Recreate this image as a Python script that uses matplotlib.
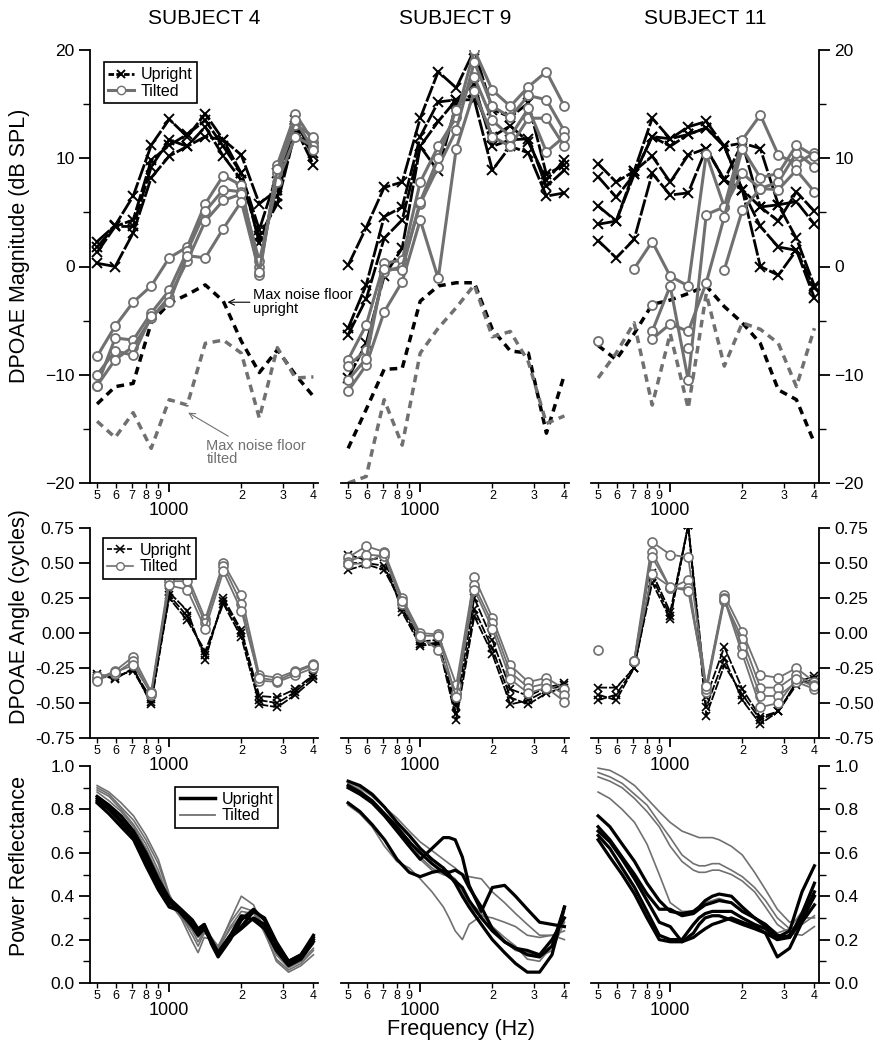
import numpy as np
import matplotlib
matplotlib.use("Agg")
import matplotlib.pyplot as plt
from matplotlib.ticker import FixedLocator, FixedFormatter
from matplotlib.lines import Line2D

plt.rcParams['font.family'] = ['Liberation Sans', 'DejaVu Sans']

nan = np.nan
subjects = ["SUBJECT 4", "SUBJECT 9", "SUBJECT 11"]

# DPOAE frequencies (Hz), 1/4 octave steps
dp_freq = [500, 595, 707, 841, 1000, 1189, 1414, 1682, 2000, 2378, 2828, 3364, 4000]
# frequencies used to read the reflectance curves
pr_freq = [500, 560, 630, 710, 800, 900, 1000, 1120, 1250, 1320, 1400, 1500,
           1600, 1800, 2000, 2250, 2500, 2800, 3150, 3550, 4000]

# ---- DPOAE magnitude (dB SPL) ----
mag_up_s4 = [
    [2.3, 3.8, 6.5, 11.2, 13.6, 12.0, 14.1, 11.7, 10.3, 5.8, 7.1, 13.5, 10.2],
    [1.8, 3.7, 4.3, 9.8, 11.2, 12.2, 13.5, 11.1, 8.6, 3.4, 8.6, 13.0, 11.0],
    [1.3, 3.7, 3.7, 9.2, 11.7, 11.1, 12.9, 10.2, 8.0, 2.8, 5.8, 12.5, 10.5],
    [0.3, 0.0, 3.1, 8.2, 10.2, 11.1, 12.0, 11.7, 8.6, 2.2, 6.5, 12.8, 9.4],
]
mag_ti_s4 = [
    [-8.3, -5.5, -3.3, -1.8, 0.8, 1.8, 5.8, 8.4, 7.5, -0.8, 9.4, 14.1, 11.5],
    [-11.0, -6.6, -6.8, -4.3, -2.2, 1.4, 5.1, 7.1, 6.9, 0.0, 8.6, 13.1, 12.0],
    [-11.0, -8.6, -7.4, -4.8, -2.8, 0.5, 4.2, 6.1, 6.7, 0.5, 7.8, 12.0, 11.1],
    [-10.0, -7.8, -8.2, -4.6, -3.3, 1.0, 0.8, 3.5, 6.0, -0.5, 9.0, 13.5, 10.8],
]
noise_up_s4 = [-12.7, -11.1, -10.8, -5.2, -3.4, -2.6, -1.7, -3.2, -6.9, -9.8, -7.7, -10.0, -12.0]
noise_ti_s4 = [-14.3, -15.8, -13.5, -16.8, -12.3, -12.8, -7.1, -6.8, -8.0, -14.0, -7.5, -10.3, -10.2]

mag_up_s9 = [
    [0.1, 3.6, 7.3, 7.8, 13.7, 18.0, 16.5, 20.0, 14.5, 13.8, 15.1, 8.5, 9.4],
    [-5.7, -1.7, 4.6, 5.5, 12.0, 15.2, 15.4, 16.8, 11.1, 11.7, 11.8, 7.4, 8.9],
    [-6.3, -3.0, 2.6, 4.3, 11.1, 13.4, 15.4, 15.4, 8.9, 11.1, 10.5, 6.5, 6.8],
    [-10.3, -7.1, -0.9, 1.7, 11.1, 8.8, 15.0, 16.0, 12.0, 13.0, 11.5, 8.0, 9.8],
]
mag_ti_s9 = [
    [-8.6, -5.4, 0.3, 0.6, 7.8, 11.1, 13.8, 20.0, 16.3, 14.8, 16.6, 18.0, 14.8],
    [-9.2, -7.7, -0.5, 0.0, 5.8, 9.2, 12.6, 18.9, 14.8, 13.8, 15.8, 15.4, 12.5],
    [-11.5, -9.1, -4.2, -1.4, 4.3, -1.1, 10.9, 16.2, 12.0, 11.1, 13.7, 13.7, 11.1],
    [-10.5, -8.5, -0.2, -0.3, 6.0, 10.0, 14.5, 17.5, 13.5, 12.0, 14.6, 10.6, 12.0],
]
noise_up_s9 = [-16.8, -13.2, -9.5, -9.4, -3.2, -1.8, -1.5, -1.5, -5.8, -7.8, -8.0, -15.4, -10.0]
noise_ti_s9 = [-20.0, -19.4, -12.3, -16.5, -8.0, -5.7, -3.8, -1.7, -6.5, -6.0, -8.8, -14.5, -13.8]

mag_up_s11 = [
    [9.5, 7.8, 8.8, 13.7, 11.8, 12.9, 13.4, 11.1, 11.4, 10.9, 5.7, 2.6, -1.8],
    [8.3, 6.4, 8.5, 12.0, 11.1, 12.2, 12.8, 11.1, 7.1, 3.7, 1.8, 1.5, -2.9],
    [5.6, 4.2, 8.8, 10.2, 7.8, 10.3, 10.9, 8.0, 11.4, 5.5, 4.2, 6.9, 5.1],
    [3.9, 4.2, 8.5, 12.0, 11.8, 12.2, 12.8, 11.1, 7.1, 5.5, 5.7, 6.0, 3.9],
    [2.4, 0.8, 2.5, 8.6, 6.6, 6.8, 10.9, 8.0, 7.1, 0.0, -0.8, 1.5, -2.0],
]
mag_ti_s11 = [
    [nan, nan, -0.2, 2.3, -0.9, -1.8, 10.4, 5.5, 11.7, 14.0, 10.3, 9.5, 10.5],
    [nan, nan, nan, -6.0, -1.8, -10.5, 4.8, 5.5, 8.6, 7.2, 7.8, 10.5, 9.2],
    [nan, nan, nan, -6.7, -5.3, -6.0, -1.5, 4.6, 10.9, 8.2, 8.6, 11.2, 10.2],
    [-6.9, nan, nan, -3.6, nan, -7.5, nan, -0.3, 5.2, 7.2, 7.1, 8.9, 6.9],
]
noise_up_s11 = [-7.3, -8.6, -6.2, -3.5, -3.1, -2.5, -1.8, -3.7, -5.2, -7.1, -11.4, -12.3, -16.3]
noise_ti_s11 = [-10.3, -8.0, -5.2, -12.8, -6.2, -13.1, -2.5, -9.2, -5.2, -5.8, -7.1, -11.1, -5.7]

# ---- DPOAE angle (cycles) ----
ang_up_s4 = [
    [-0.29, -0.33, -0.25, -0.51, 0.29, 0.16, -0.19, 0.25, 0.02, -0.45, -0.46, -0.40, -0.30],
    [-0.32, -0.31, -0.27, -0.49, 0.25, 0.09, -0.13, 0.21, -0.03, -0.51, -0.53, -0.44, -0.33],
    [-0.31, -0.32, -0.26, -0.47, 0.27, 0.12, -0.16, 0.23, 0.00, -0.48, -0.50, -0.42, -0.31],
]
ang_ti_s4 = [
    [-0.33, -0.27, -0.17, -0.42, 0.40, 0.41, 0.10, 0.50, 0.27, -0.30, -0.32, -0.27, -0.22],
    [-0.31, -0.29, -0.20, -0.44, 0.37, 0.37, 0.07, 0.48, 0.21, -0.34, -0.35, -0.30, -0.25],
    [-0.34, -0.28, -0.23, -0.43, 0.34, 0.31, 0.03, 0.44, 0.16, -0.32, -0.34, -0.28, -0.23],
]
ang_up_s9 = [
    [0.56, 0.52, 0.54, 0.15, -0.09, -0.08, -0.52, 0.25, -0.05, -0.40, -0.45, -0.39, -0.36],
    [0.45, 0.49, 0.45, 0.21, -0.06, -0.05, -0.58, 0.17, -0.11, -0.46, -0.51, -0.43, -0.39],
    [0.50, 0.50, 0.48, 0.18, -0.08, -0.07, -0.62, 0.12, -0.15, -0.51, -0.48, -0.41, -0.37],
]
ang_ti_s9 = [
    [0.54, 0.62, 0.58, 0.25, 0.00, -0.01, -0.37, 0.40, 0.11, -0.23, -0.35, -0.32, -0.40],
    [0.51, 0.56, 0.55, 0.21, -0.03, -0.12, -0.43, 0.34, 0.07, -0.28, -0.39, -0.36, -0.44],
    [0.49, 0.50, 0.57, 0.23, -0.02, -0.02, -0.46, 0.31, 0.03, -0.33, -0.43, -0.39, -0.49],
]
ang_up_s11 = [
    [-0.39, -0.39, -0.25, 0.43, 0.15, 0.77, -0.46, -0.10, -0.40, -0.60, -0.56, -0.35, -0.31],
    [-0.44, -0.48, -0.25, 0.36, 0.10, 0.77, -0.53, -0.18, -0.48, -0.65, -0.56, -0.35, -0.35],
    [-0.48, -0.44, -0.25, 0.40, 0.12, 0.77, -0.59, -0.23, -0.44, -0.62, -0.56, -0.37, -0.33],
]
ang_ti_s11 = [
    [-0.12, nan, -0.20, 0.65, 0.56, 0.54, -0.38, 0.27, 0.01, -0.30, -0.32, -0.25, -0.35],
    [nan, nan, -0.20, 0.58, 0.32, 0.38, -0.42, 0.23, -0.04, -0.39, -0.39, -0.30, -0.37],
    [nan, nan, -0.20, 0.54, 0.32, 0.32, -0.40, 0.25, -0.10, -0.45, -0.45, -0.35, -0.40],
    [nan, nan, -0.20, 0.42, 0.33, 0.30, -0.38, 0.24, -0.15, -0.53, -0.50, -0.33, -0.38],
]

# ---- Power reflectance ----
pr_up_s4 = [
    [0.86, 0.82, 0.77, 0.70, 0.60, 0.48, 0.39, 0.34, 0.29, 0.25, 0.27, 0.20, 0.14, 0.22, 0.26, 0.33, 0.30, 0.19, 0.10, 0.13, 0.22],
    [0.84, 0.80, 0.74, 0.67, 0.56, 0.45, 0.37, 0.33, 0.27, 0.23, 0.26, 0.19, 0.13, 0.21, 0.25, 0.30, 0.27, 0.17, 0.09, 0.12, 0.20],
    [0.83, 0.78, 0.72, 0.66, 0.54, 0.43, 0.35, 0.33, 0.28, 0.24, 0.27, 0.18, 0.12, 0.20, 0.29, 0.34, 0.29, 0.18, 0.10, 0.13, 0.21],
    [0.85, 0.81, 0.75, 0.68, 0.58, 0.47, 0.38, 0.32, 0.26, 0.22, 0.25, 0.19, 0.14, 0.22, 0.31, 0.29, 0.25, 0.15, 0.08, 0.11, 0.19],
]
pr_ti_s4 = [
    [0.91, 0.88, 0.83, 0.77, 0.68, 0.57, 0.41, 0.30, 0.19, 0.14, 0.21, 0.20, 0.16, 0.29, 0.40, 0.36, 0.24, 0.10, 0.05, 0.08, 0.13],
    [0.90, 0.87, 0.81, 0.75, 0.66, 0.55, 0.40, 0.31, 0.22, 0.17, 0.23, 0.21, 0.17, 0.28, 0.35, 0.33, 0.23, 0.11, 0.06, 0.09, 0.15],
    [0.89, 0.86, 0.80, 0.73, 0.64, 0.52, 0.38, 0.31, 0.24, 0.19, 0.24, 0.20, 0.15, 0.26, 0.33, 0.32, 0.25, 0.13, 0.07, 0.10, 0.16],
    [0.88, 0.84, 0.79, 0.72, 0.62, 0.50, 0.37, 0.30, 0.25, 0.21, 0.24, 0.19, 0.16, 0.25, 0.31, 0.33, 0.26, 0.14, 0.08, 0.11, 0.18],
]
pr_up_s9 = [
    [0.90, 0.87, 0.83, 0.77, 0.70, 0.63, 0.57, 0.62, 0.67, 0.67, 0.66, 0.58, 0.45, 0.33, 0.44, 0.45, 0.40, 0.34, 0.28, 0.27, 0.26],
    [0.83, 0.79, 0.73, 0.66, 0.57, 0.51, 0.49, 0.51, 0.52, 0.51, 0.52, 0.50, 0.44, 0.35, 0.25, 0.19, 0.16, 0.13, 0.12, 0.17, 0.35],
    [0.93, 0.91, 0.87, 0.81, 0.74, 0.68, 0.62, 0.57, 0.53, 0.50, 0.46, 0.40, 0.35, 0.27, 0.20, 0.14, 0.09, 0.05, 0.05, 0.13, 0.35],
    [0.91, 0.88, 0.84, 0.78, 0.72, 0.65, 0.60, 0.55, 0.51, 0.49, 0.47, 0.44, 0.38, 0.30, 0.24, 0.19, 0.16, 0.15, 0.13, 0.20, 0.30],
]
pr_ti_s9 = [
    [0.82, 0.78, 0.72, 0.63, 0.56, 0.53, 0.48, 0.42, 0.35, 0.30, 0.24, 0.20, 0.27, 0.31, 0.30, 0.28, 0.26, 0.22, 0.21, 0.22, 0.20],
    [0.93, 0.90, 0.86, 0.81, 0.76, 0.70, 0.65, 0.61, 0.57, 0.55, 0.53, 0.50, 0.49, 0.48, 0.42, 0.37, 0.32, 0.27, 0.22, 0.22, 0.24],
    [0.92, 0.89, 0.84, 0.78, 0.71, 0.64, 0.57, 0.52, 0.50, 0.50, 0.48, 0.43, 0.38, 0.32, 0.26, 0.21, 0.17, 0.11, 0.10, 0.17, 0.33],
    [0.91, 0.88, 0.83, 0.77, 0.71, 0.66, 0.58, 0.53, 0.50, 0.49, 0.47, 0.42, 0.36, 0.30, 0.24, 0.19, 0.15, 0.14, 0.12, 0.15, 0.28],
]
pr_up_s11 = [
    [0.77, 0.72, 0.64, 0.56, 0.46, 0.38, 0.33, 0.32, 0.33, 0.35, 0.38, 0.40, 0.41, 0.40, 0.35, 0.30, 0.26, 0.21, 0.24, 0.42, 0.54],
    [0.72, 0.66, 0.58, 0.50, 0.41, 0.34, 0.34, 0.31, 0.32, 0.34, 0.36, 0.37, 0.38, 0.37, 0.33, 0.30, 0.27, 0.22, 0.21, 0.32, 0.46],
    [0.68, 0.62, 0.53, 0.44, 0.33, 0.22, 0.20, 0.20, 0.27, 0.30, 0.32, 0.33, 0.33, 0.33, 0.30, 0.27, 0.25, 0.20, 0.21, 0.29, 0.40],
    [0.66, 0.58, 0.50, 0.41, 0.30, 0.20, 0.19, 0.19, 0.21, 0.23, 0.25, 0.27, 0.28, 0.30, 0.28, 0.26, 0.23, 0.12, 0.16, 0.28, 0.36],
    [0.70, 0.65, 0.57, 0.48, 0.38, 0.28, 0.26, 0.19, 0.23, 0.27, 0.30, 0.31, 0.31, 0.29, 0.27, 0.25, 0.23, 0.20, 0.22, 0.30, 0.42],
]
pr_ti_s11 = [
    [0.99, 0.98, 0.95, 0.91, 0.85, 0.79, 0.74, 0.70, 0.68, 0.67, 0.67, 0.67, 0.66, 0.63, 0.59, 0.51, 0.43, 0.34, 0.28, 0.30, 0.30],
    [0.97, 0.95, 0.92, 0.87, 0.82, 0.74, 0.67, 0.59, 0.55, 0.54, 0.54, 0.55, 0.55, 0.52, 0.49, 0.44, 0.38, 0.30, 0.25, 0.27, 0.31],
    [0.95, 0.93, 0.90, 0.85, 0.79, 0.72, 0.63, 0.56, 0.52, 0.51, 0.51, 0.52, 0.52, 0.50, 0.47, 0.42, 0.35, 0.27, 0.23, 0.22, 0.26],
    [0.88, 0.85, 0.80, 0.74, 0.64, 0.50, 0.37, 0.33, 0.33, 0.35, 0.37, 0.38, 0.39, 0.37, 0.33, 0.30, 0.27, 0.23, 0.25, 0.33, 0.45],
]

mag_up = [mag_up_s4, mag_up_s9, mag_up_s11]
mag_ti = [mag_ti_s4, mag_ti_s9, mag_ti_s11]
noise_up = [noise_up_s4, noise_up_s9, noise_up_s11]
noise_ti = [noise_ti_s4, noise_ti_s9, noise_ti_s11]
ang_up = [ang_up_s4, ang_up_s9, ang_up_s11]
ang_ti = [ang_ti_s4, ang_ti_s9, ang_ti_s11]
pr_up = [pr_up_s4, pr_up_s9, pr_up_s11]
pr_ti = [pr_ti_s4, pr_ti_s9, pr_ti_s11]

GRAY = '#707070'
W, H = 882, 1050
col_left = [90, 341, 591]
col_w = 228
rows = [(50, 483), (528, 738), (766, 983)]

minor_ticks = [500, 600, 700, 800, 900, 2000, 3000, 4000]
minor_labels = ['5', '6', '7', '8', '9', '2', '3', '4']


def make_axes(fig, col, row):
    top, bot = rows[row]
    return fig.add_axes([col_left[col] / W, 1 - bot / H, col_w / W, (bot - top) / H])


def style_axes(ax, col):
    ax.set_xscale('log')
    ax.set_xlim(467, 4180)
    ax.xaxis.set_major_locator(FixedLocator([1000]))
    ax.xaxis.set_major_formatter(FixedFormatter(['1000']))
    ax.xaxis.set_minor_locator(FixedLocator(minor_ticks))
    ax.xaxis.set_minor_formatter(FixedFormatter(minor_labels))
    ax.tick_params(axis='x', which='major', length=6.5, width=1.3, pad=7, labelsize=13)
    ax.tick_params(axis='x', which='minor', length=3.5, width=1.0, pad=1.5, labelsize=9)
    ax.spines['top'].set_visible(False)
    for s in ['bottom', 'left', 'right']:
        ax.spines[s].set_linewidth(1.3)
    if col == 0:
        ax.spines['right'].set_visible(False)
    elif col == 1:
        ax.spines['right'].set_visible(False)
        ax.spines['left'].set_visible(False)
        ax.tick_params(axis='y', which='both', left=False, labelleft=False)
    else:
        ax.spines['left'].set_visible(False)
        ax.yaxis.tick_right()
    ax.tick_params(axis='y', which='major', length=8, width=1.3, labelsize=12.5, pad=3)
    ax.tick_params(axis='y', which='minor', length=5, width=1.0)
    ax.patch.set_alpha(0)


fig = plt.figure(figsize=(W / 100, H / 100), dpi=100)

for c in range(3):
    # magnitude row
    ax = make_axes(fig, c, 0)
    style_axes(ax, c)
    ax.set_ylim(-20, 20)
    ax.set_yticks([-20, -10, 0, 10, 20])
    ax.set_yticks([-15, -5, 5, 15], minor=True)
    ax.plot(dp_freq, noise_up[c], color='black', lw=2.5, ls=(0, (2.2, 1.6)))
    ax.plot(dp_freq, noise_ti[c], color=GRAY, lw=2.5, ls=(0, (2.2, 1.6)))
    for y in mag_up[c]:
        ax.plot(dp_freq, y, color='black', lw=2.0, ls=(0, (6, 0.8)), marker='x',
                ms=6.5, mew=1.4, mec='black')
    for y in mag_ti[c]:
        ax.plot(dp_freq, y, color=GRAY, lw=2.2, marker='o', ms=6.5,
                mfc='white', mec=GRAY, mew=1.3)
    ax.set_title(subjects[c], fontsize=15, pad=19)
    if c == 0:
        hs = [Line2D([], [], color='black', lw=2.0, ls=(0, (2, 0.8)), marker='x', ms=6, mew=1.4),
              Line2D([], [], color=GRAY, lw=2.2, marker='o', ms=6, mfc='white', mec=GRAY)]
        leg = ax.legend(hs, ['Upright', 'Tilted'], loc='upper left', fontsize=11.5,
                        handlelength=1.6, handletextpad=0.4, borderpad=0.3,
                        labelspacing=0.1, fancybox=False, framealpha=1,
                        edgecolor='black', bbox_to_anchor=(0.025, 0.99))
        leg.get_frame().set_linewidth(1.2)
        ax.annotate('Max noise floor\nupright', xy=(1750, -3.3), xytext=(2230, -3.3),
                    fontsize=10.5, va='center', ha='left', linespacing=0.95,
                    arrowprops=dict(arrowstyle='->', color='black', lw=0.8, shrinkA=0, shrinkB=0))
        ax.annotate('Max noise floor\ntilted', xy=(1200, -13.5), xytext=(1430, -17.2),
                    fontsize=10.5, va='center', ha='left', color=GRAY, linespacing=0.95,
                    arrowprops=dict(arrowstyle='->', color=GRAY, lw=0.8, shrinkA=0, shrinkB=0))

    # angle row
    ax = make_axes(fig, c, 1)
    style_axes(ax, c)
    ax.set_ylim(-0.75, 0.75)
    ax.set_yticks([-0.75, -0.5, -0.25, 0, 0.25, 0.5, 0.75])
    ax.set_yticklabels(['-0.75', '-0.50', '-0.25', '0.00', '0.25', '0.50', '0.75'])
    for y in ang_up[c]:
        ax.plot(dp_freq, y, color='black', lw=1.3, ls=(0, (5, 1)), marker='x',
                ms=6, mew=1.2, mec='black')
    for y in ang_ti[c]:
        ax.plot(dp_freq, y, color=GRAY, lw=1.3, marker='o', ms=6.5,
                mfc='white', mec=GRAY, mew=1.2)
    if c == 0:
        hs = [Line2D([], [], color='black', lw=1.2, ls=(0, (3, 1)), marker='x', ms=5.5, mew=1.1),
              Line2D([], [], color=GRAY, lw=1.2, marker='o', ms=5.5, mfc='white', mec=GRAY)]
        leg = ax.legend(hs, ['Upright', 'Tilted'], loc='upper left', fontsize=11.5,
                        handlelength=1.6, handletextpad=0.4, borderpad=0.3,
                        labelspacing=0.1, fancybox=False, framealpha=1,
                        edgecolor='black', bbox_to_anchor=(0.02, 0.99))
        leg.get_frame().set_linewidth(1.2)

    # reflectance row
    ax = make_axes(fig, c, 2)
    style_axes(ax, c)
    ax.set_ylim(0, 1)
    ax.set_yticks([0, 0.2, 0.4, 0.6, 0.8, 1.0])
    ax.set_yticklabels(['0.0', '0.2', '0.4', '0.6', '0.8', '1.0'])
    ax.set_yticks([0.1, 0.3, 0.5, 0.7, 0.9], minor=True)
    for y in pr_ti[c]:
        ax.plot(pr_freq, y, color=GRAY, lw=1.2)
    for y in pr_up[c]:
        ax.plot(pr_freq, y, color='black', lw=2.3)
    if c == 0:
        hs = [Line2D([], [], color='black', lw=2.5), Line2D([], [], color=GRAY, lw=1.3)]
        leg = ax.legend(hs, ['Upright', 'Tilted'], loc='upper right', fontsize=11.5,
                        handlelength=2.2, handletextpad=0.4, borderpad=0.3,
                        labelspacing=0.1, fancybox=False, framealpha=1,
                        edgecolor='black', bbox_to_anchor=(0.86, 0.94))
        leg.get_frame().set_linewidth(1.2)

fig.text(19.5 / W, 1 - 246 / H, 'DPOAE Magnitude (dB SPL)', rotation=90, ha='center', va='center', fontsize=15.5)
fig.text(19.5 / W, 1 - 617 / H, 'DPOAE Angle (cycles)', rotation=90, ha='center', va='center', fontsize=15.5)
fig.text(19.5 / W, 1 - 866 / H, 'Power Reflectance', rotation=90, ha='center', va='center', fontsize=15.5)
fig.text(461 / W, 1 - 1030 / H, 'Frequency (Hz)', ha='center', va='center', fontsize=15.5)

fig.savefig('out.png', dpi=100)
